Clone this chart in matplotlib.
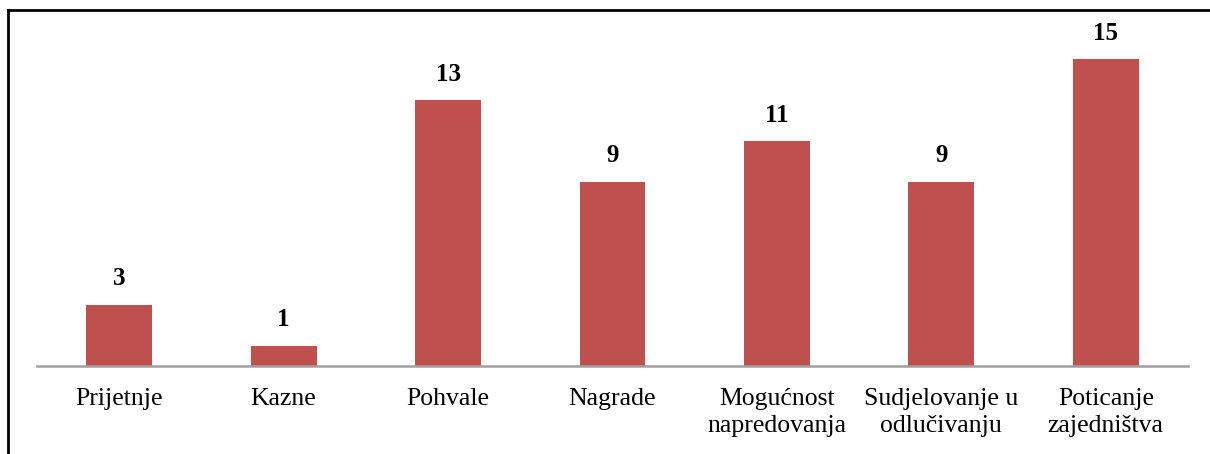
import matplotlib.pyplot as plt
from matplotlib.lines import Line2D

categories = ['Prijetnje', 'Kazne', 'Pohvale', 'Nagrade', 'Mogućnost\nnapredovanja',
              'Sudjelovanje u\nodlučivanju', 'Poticanje\nzajedništva']
counts = [3, 1, 13, 9, 11, 9, 15]

plt.rcParams['font.family'] = ['Liberation Serif', 'DejaVu Serif']

W, H = 1210, 454
fig = plt.figure(figsize=(W / 100, H / 100), dpi=100)
ax = fig.add_axes([37 / W, (H - 366) / H, 1151 / W, 327.5 / H])

x = range(len(categories))
bars = ax.bar(x, counts, width=0.4, color='#C0504D', zorder=2)
for b, v in zip(bars, counts):
    ax.text(b.get_x() + b.get_width() / 2, v + 0.7, str(v), ha='center', va='bottom',
            fontsize=18, fontweight='bold')

ax.set_xlim(-0.5, len(categories) - 0.5)
ax.set_ylim(0, 16)
ax.set_yticks([])
ax.set_xticks(list(x))
ax.set_xticklabels(categories, fontsize=18.5, linespacing=1.3)
ax.tick_params(axis='x', length=0, pad=16)
for s in ['top', 'right', 'left']:
    ax.spines[s].set_visible(False)
ax.spines['bottom'].set_color('#A0A0A0')
ax.spines['bottom'].set_linewidth(1.8)

# outer frame, cropped at the right and bottom
fig.add_artist(Line2D([8 / W, 1], [1 - 10 / H, 1 - 10 / H], color='black', lw=2,
                      transform=fig.transFigure))
fig.add_artist(Line2D([8 / W, 8 / W], [0, 1 - 10 / H], color='black', lw=2,
                      transform=fig.transFigure))

fig.savefig('out.png', dpi=100)
